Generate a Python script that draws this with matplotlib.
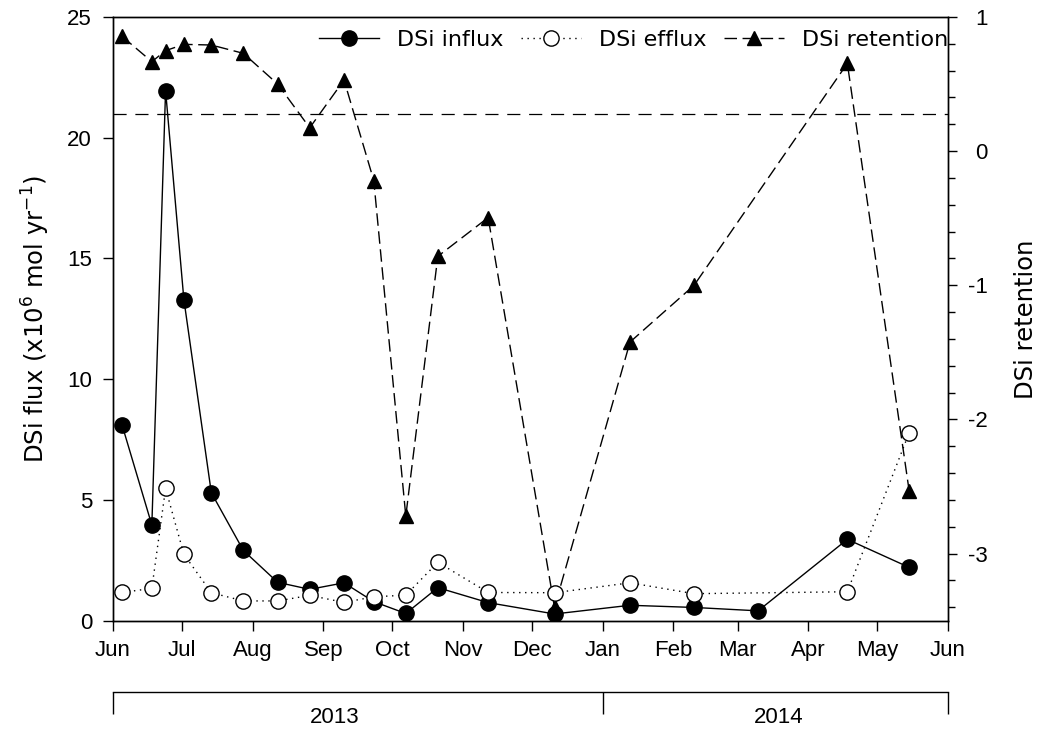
import numpy as np
import matplotlib
matplotlib.use("Agg")
import matplotlib.pyplot as plt
from matplotlib.ticker import MultipleLocator, FixedLocator, NullFormatter

plt.rcParams['font.family'] = ['Liberation Sans', 'DejaVu Sans']
plt.rcParams['mathtext.fontset'] = 'dejavusans'
plt.rcParams['axes.unicode_minus'] = False
plt.rcParams['font.size'] = 16

# ---- data ----
dates = ["2013-06-05", "2013-06-18", "2013-06-24", "2013-07-02", "2013-07-14",
         "2013-07-28", "2013-08-12", "2013-08-26", "2013-09-10", "2013-09-23",
         "2013-10-07", "2013-10-21", "2013-11-12", "2013-12-11", "2014-01-13",
         "2014-02-10", "2014-03-10", "2014-04-18", "2014-05-15"]
influx = [8.1, 3.96, 21.95, 13.3, 5.3, 2.91, 1.59, 1.3, 1.57, 0.79,
          0.3, 1.37, 0.75, 0.28, 0.64, 0.55, 0.41, 3.37, 2.21]
efflux = [1.17, 1.34, 5.48, 2.75, 1.16, 0.82, 0.82, 1.05, 0.76, 0.99,
          1.06, 2.42, 1.17, 1.16, 1.57, 1.12, np.nan, 1.2, 7.78]
retention = [0.855, 0.667, 0.749, 0.796, 0.791, 0.729, 0.5, 0.174, 0.53, -0.219,
             -2.72, -0.784, -0.495, -3.4, -1.423, -1.0, np.nan, 0.654, -2.53]
ref_level = 21.0  # horizontal dashed reference line (left axis units)
month_ticks = ["2013-06-01", "2013-07-01", "2013-08-01", "2013-09-01", "2013-10-01",
               "2013-11-01", "2013-12-01", "2014-01-01", "2014-02-01", "2014-03-01",
               "2014-04-01", "2014-05-01", "2014-06-01"]
month_labels = ["Jun", "Jul", "Aug", "Sep", "Oct", "Nov", "Dec",
                "Jan", "Feb", "Mar", "Apr", "May", "Jun"]
year_bounds = ["2013-06-01", "2014-01-01", "2014-06-01"]
year_labels = ["2013", "2014"]
year_label_pos = ["2013-09-06", "2014-03-19"]

d = np.array(dates, dtype="datetime64[D]")
inf = np.array(influx)
eff = np.array(efflux)
ret = np.array(retention)

fig = plt.figure(figsize=(10.42, 7.32), dpi=100)
ax1 = fig.add_axes([0.1084, 0.152, 0.8014, 0.8248])
ax2 = ax1.twinx()
ax1.set_zorder(ax2.get_zorder() + 1)
ax1.patch.set_visible(False)

lw = 1.0
label_font = dict(family='DejaVu Sans', size=17.5)

# retention on right axis
m = ~np.isnan(ret)
h3, = ax2.plot(d[m], ret[m], color='black', lw=lw, dashes=(9, 4), marker='^',
               markersize=10, markerfacecolor='black', markeredgecolor='black',
               label='DSi retention')
# influx and efflux on left axis
h1, = ax1.plot(d, inf, color='black', lw=lw, ls='-', marker='o', markersize=11,
               markerfacecolor='black', markeredgecolor='black', label='DSi influx', zorder=3)
m2 = ~np.isnan(eff)
h2, = ax1.plot(d[m2], eff[m2], color='black', lw=lw, dashes=(1, 3.3), marker='o',
               markersize=11, markerfacecolor='white', markeredgecolor='black',
               markeredgewidth=1.0, label='DSi efflux', zorder=4)
ax1.axhline(ref_level, color='black', lw=0.9, dashes=(10.5, 7), zorder=1)

# axes limits and ticks
xt = np.array(month_ticks, dtype="datetime64[D]")
ax1.set_xlim(xt[0], xt[-1])
ax1.set_ylim(0, 25)
ax2.set_ylim(-3.5, 1)
ax1.set_xticks(xt)
ax1.set_xticklabels(month_labels)
ax1.set_yticks([0, 5, 10, 15, 20, 25])
ax2.yaxis.set_major_locator(FixedLocator([-3, -2, -1, 0, 1]))
ax2.yaxis.set_minor_locator(MultipleLocator(0.2))

for a in (ax1, ax2):
    for s in a.spines.values():
        s.set_linewidth(1.0)
ax1.tick_params(axis='both', which='major', direction='out', length=7, width=1.0, labelsize=16)
ax1.tick_params(axis='x', pad=7)
ax1.tick_params(axis='y', pad=8)
ax2.tick_params(axis='y', which='major', direction='out', length=6.5, width=1.0,
                labelsize=16, pad=22)
ax2.tick_params(axis='y', which='minor', direction='out', length=5, width=1.0)
for lab in ax2.get_yticklabels():
    lab.set_horizontalalignment('right')

ax1.set_ylabel("DSi flux (x10$^{6}$ mol yr$^{-1}$)", fontdict=label_font, labelpad=11)
ax2.set_ylabel("DSi retention", fontdict=label_font, labelpad=19)

# year bracket axis
yb = np.array(year_bounds, dtype="datetime64[D]")
sec = ax1.secondary_xaxis(-0.1186)
sec.set_xticks(yb)
sec.xaxis.set_major_formatter(NullFormatter())
sec.tick_params(axis='x', direction='out', length=16, width=1.0)
sec.spines['bottom'].set_linewidth(1.0)
xtrans = ax1.get_xaxis_transform()
for lbl, pos in zip(year_labels, year_label_pos):
    ax1.text(np.datetime64(pos), -0.1595, lbl, transform=xtrans, ha='center',
             va='center', fontsize=16, clip_on=False)

leg = ax1.legend(handles=[h1, h2, h3], loc='center right', bbox_to_anchor=(1.0, 0.962),
                 ncol=3, frameon=False, handlelength=2.7, handletextpad=0.8,
                 columnspacing=0.8, borderpad=0, borderaxespad=0,
                 prop=dict(family='DejaVu Sans', size=16))

fig.savefig("out.png", dpi=100)
